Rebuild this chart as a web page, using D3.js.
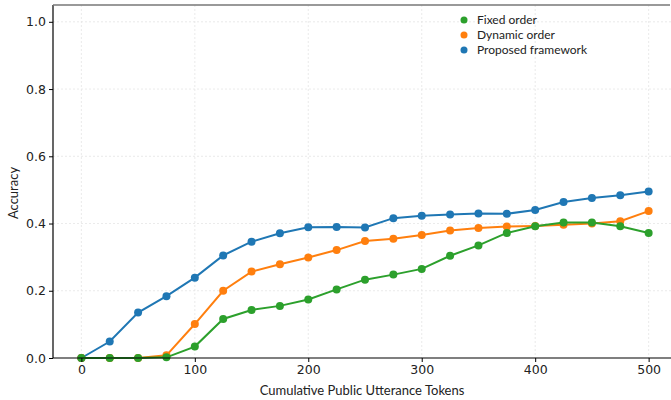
<!DOCTYPE html>
<html>
<head>
<meta charset="utf-8">
<script src="https://cdn.jsdelivr.net/npm/d3@7"></script>
<style>
  html, body { margin: 0; padding: 0; background: #fff; }
  svg { display: block; }
</style>
</head>
<body>
<svg id="chart" width="671" height="400"></svg>
<script>
// Token budget checkpoints (x axis)
const tokens = [0, 25, 50, 75, 100, 125, 150, 175, 200, 225, 250, 275, 300, 325, 350, 375, 400, 425, 450, 475, 500];

// Accuracy per method at each checkpoint
const proposedFramework = [0.000, 0.049, 0.135, 0.184, 0.239, 0.305, 0.346, 0.371, 0.389, 0.390, 0.388, 0.416, 0.423, 0.427, 0.430, 0.429, 0.440, 0.464, 0.476, 0.484, 0.495];
const dynamicOrder      = [0.000, 0.000, 0.000, 0.008, 0.101, 0.200, 0.257, 0.279, 0.299, 0.321, 0.348, 0.355, 0.366, 0.379, 0.387, 0.391, 0.393, 0.396, 0.400, 0.407, 0.437];
const fixedOrder        = [0.000, 0.000, 0.000, 0.002, 0.034, 0.116, 0.143, 0.155, 0.174, 0.204, 0.233, 0.248, 0.265, 0.304, 0.335, 0.372, 0.392, 0.403, 0.403, 0.392, 0.372];

const xTicks = [0, 100, 200, 300, 400, 500];
const yTicks = [0.0, 0.2, 0.4, 0.6, 0.8, 1.0];

const seriesNames  = ["Fixed order", "Dynamic order", "Proposed framework"];
const seriesColors = ["#2ca02c", "#ff7f0e", "#1f77b4"];

const svg = d3.select("#chart");
const plotLeft = 53, plotRight = 677, plotTop = 5, plotBottom = 358;

const x = d3.scaleLinear().domain([-25, 525]).range([plotLeft, plotRight]);
const y = d3.scaleLinear().domain([0, 1.05]).range([plotBottom, plotTop]);

const tickFont = "DejaVu Sans, sans-serif";
const labelFont = "Lato, 'Open Sans', sans-serif";

// grid
const grid = svg.append("g");
grid.selectAll("line.gx").data(xTicks).join("line")
  .attr("x1", d => x(d)).attr("x2", d => x(d))
  .attr("y1", plotTop).attr("y2", plotBottom)
  .attr("stroke", "#e4e4e4").attr("stroke-width", 0.8).attr("stroke-dasharray", "2,2");
grid.selectAll("line.gy").data(yTicks.slice(1)).join("line")
  .attr("x1", plotLeft).attr("x2", 671)
  .attr("y1", d => y(d)).attr("y2", d => y(d))
  .attr("stroke", "#e4e4e4").attr("stroke-width", 0.8).attr("stroke-dasharray", "2,2");

// series: proposed first, fixed on top
const series = [
  { name: seriesNames[2], color: seriesColors[2], values: proposedFramework },
  { name: seriesNames[1], color: seriesColors[1], values: dynamicOrder },
  { name: seriesNames[0], color: seriesColors[0], values: fixedOrder }
];

const line = d3.line().x((d, i) => x(tokens[i])).y(d => y(d));

series.forEach(s => {
  const g = svg.append("g");
  g.append("path").datum(s.values)
    .attr("d", line)
    .attr("fill", "none")
    .attr("stroke", s.color)
    .attr("stroke-width", 2);
  g.selectAll("circle").data(s.values).join("circle")
    .attr("cx", (d, i) => x(tokens[i]))
    .attr("cy", d => y(d))
    .attr("r", 4)
    .attr("fill", s.color);
});

// axes
const xAxis = d3.axisBottom(x).tickValues(xTicks).tickSize(4).tickPadding(3).tickFormat(d3.format("d"));
const gx = svg.append("g").attr("transform", `translate(0,${plotBottom})`).call(xAxis);
gx.select(".domain").attr("d", `M${plotLeft},0H671`).attr("stroke", "#000").attr("stroke-width", 1.2);
gx.selectAll(".tick line").attr("stroke", "#000");
gx.selectAll(".tick text").attr("font-family", tickFont).attr("font-size", 12.5).attr("fill", "#222");

const yAxis = d3.axisLeft(y).tickValues(yTicks).tickSize(4).tickPadding(3).tickFormat(d3.format(".1f"));
const gy = svg.append("g").attr("transform", `translate(${plotLeft},0)`).call(yAxis);
gy.select(".domain").attr("d", `M0,${plotBottom}V${plotTop}`).attr("stroke", "#000").attr("stroke-width", 1.2);
gy.selectAll(".tick line").attr("stroke", "#000");
gy.selectAll(".tick text").attr("font-family", tickFont).attr("font-size", 12.5).attr("fill", "#222");

// top border
svg.append("line").attr("x1", plotLeft).attr("x2", 670).attr("y1", plotTop).attr("y2", plotTop)
  .attr("stroke", "#777").attr("stroke-width", 1.5);

// axis labels
svg.append("text").attr("x", 362).attr("y", 395)
  .attr("text-anchor", "middle").attr("font-family", labelFont).attr("font-size", 13).attr("fill", "#222")
  .text("Cumulative Public Utterance Tokens");
svg.append("text").attr("transform", `translate(18,${193}) rotate(-90)`)
  .attr("text-anchor", "middle").attr("font-family", labelFont).attr("font-size", 13).attr("fill", "#222")
  .text("Accuracy");

// legend
const legend = svg.append("g").attr("transform", "translate(464,20)");
seriesNames.forEach((n, i) => {
  const row = legend.append("g").attr("transform", `translate(0,${i * 15})`);
  row.append("circle").attr("r", 3.5).attr("fill", seriesColors[i]);
  row.append("text").attr("x", 13).attr("y", 4)
    .attr("font-family", labelFont).attr("font-size", 12).attr("fill", "#222").text(n);
});
</script>
</body>
</html>
